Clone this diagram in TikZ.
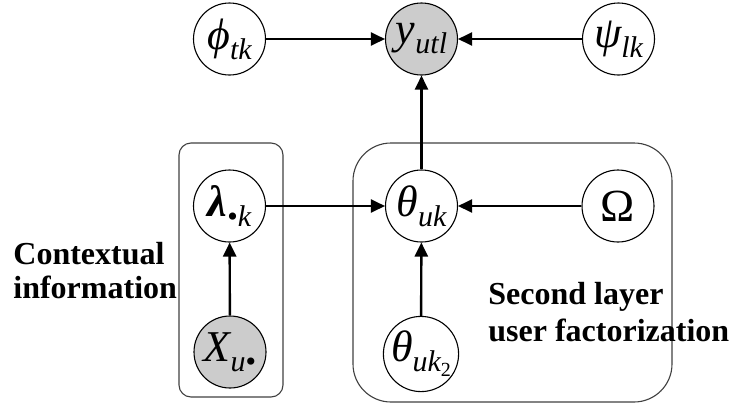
\documentclass[tikz,border=0pt]{standalone}
\usepackage{fontspec}
\setmainfont{Liberation Serif}
\usetikzlibrary{arrows.meta}

% variable with an italic subscript
\newcommand{\varsym}[2]{{\fontsize{22}{22}\selectfont\itshape #1}\raisebox{-5pt}{\fontsize{15}{15}\selectfont\itshape #2}}
\newcommand{\subsub}[1]{\raisebox{-2.5pt}{\fontsize{10}{10}\selectfont\upshape #1}}

\tikzset{
  rv/.style={circle, draw=black, line width=0.55pt, minimum size=36pt, inner sep=0pt, fill=white},
  obs/.style={rv, fill=gray!40},
  edge/.style={line width=1.2pt, -{Triangle[length=7pt, width=6.5pt]}},
  plate/.style={draw=black!75, line width=0.55pt},
  caption/.style={font=\fontsize{16}{16}\selectfont\bfseries, anchor=base west, inner sep=0pt},
}

\begin{document}
\begin{tikzpicture}[x=0.5pt, y=-0.5pt]
  \useasboundingbox (0,0) rectangle (730,408);

  % plates
  \draw[plate, rounded corners=6pt] (179,143) rectangle (283,397);
  \draw[plate, rounded corners=19pt] (353,143) rectangle (672,402);

  % variables
  \node[rv]  (phi)    at (229.5,39) {\varsym{ϕ}{tk}};
  \node[obs] (y)      at (421.5,39) {\varsym{y}{utl}};
  \node[rv]  (psi)    at (618.5,39) {\varsym{ψ}{lk}};
  \node[rv]  (lambda) at (229.5,206) {\varsym{\bfseries λ}{\upshape•\itshape k}};
  \node[rv]  (theta)  at (421.5,206) {\varsym{θ}{uk}};
  \node[rv]  (omega)  at (618,206) {\fontsize{23}{23}\selectfont Ω};
  \node[obs] (X)      at (230,352) {\varsym{X}{u\upshape•}};
  \node[rv]  (theta2) at (421,354) {\varsym{θ}{uk\subsub{2}}};

  % dependencies
  \draw[edge] (phi) -- (y);
  \draw[edge] (psi) -- (y);
  \draw[edge] (theta) -- (y);
  \draw[edge] (lambda) -- (theta);
  \draw[edge] (omega) -- (theta);
  \draw[edge] (theta2) -- (theta);
  \draw[edge] (X) -- (lambda);

  % plate captions
  \node[caption] (ctx1) at (13,264) {Contextual};
  \node[caption] (ctx2) at (13,298) {information};
  \node[caption] (sec1) at (488,304) {Second layer};
  \node[caption] (sec2) at (488,341) {user factorization};
\end{tikzpicture}
\end{document}
